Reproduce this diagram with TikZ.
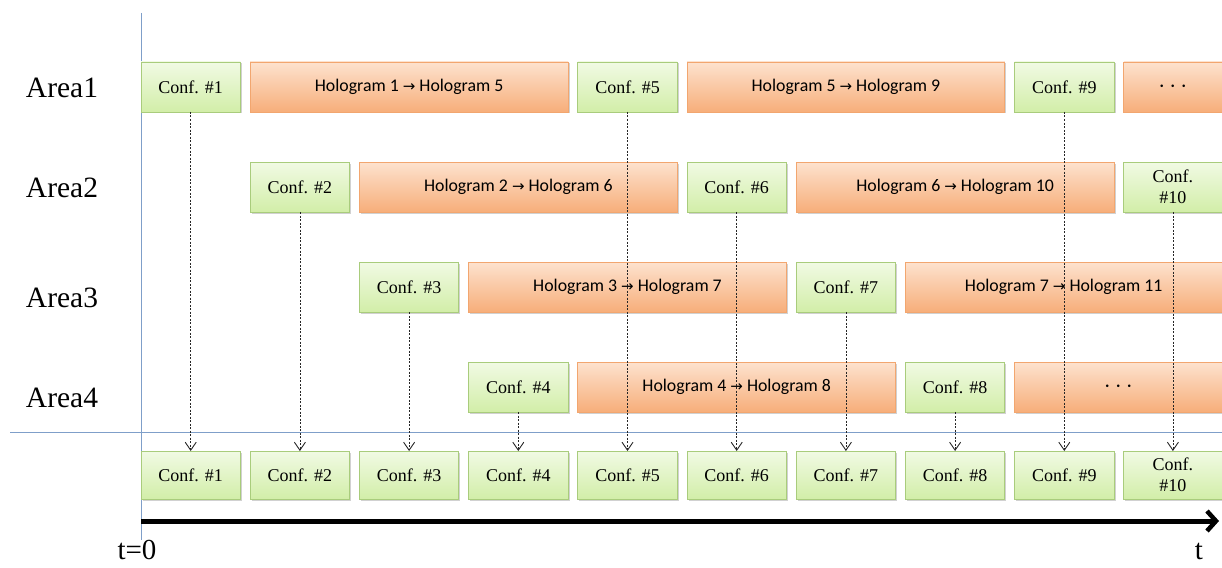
\documentclass[tikz,border=0pt]{standalone}
\usepackage{fontspec}
\setmainfont{Liberation Serif}
\newfontfamily\calib{Carlito}
\newfontfamily\dejavu{DejaVu Sans}
\usetikzlibrary{arrows.meta,shadows}
\definecolor{conftop}{HTML}{F1FAE4}
\definecolor{confbot}{HTML}{D2EEA8}
\definecolor{confline}{HTML}{A9CC7C}
\definecolor{holotop}{HTML}{FDE2CE}
\definecolor{holobot}{HTML}{F7AE7A}
\definecolor{hololine}{HTML}{F2A66F}
\definecolor{axiscol}{HTML}{7F9FC9}
\newcommand\harr{{\dejavu\fontsize{15}{17}\selectfont →}}
\begin{document}
\begin{tikzpicture}[x=1pt,y=-1pt,
  box/.style={draw, line width=0.8pt, inner sep=0pt, outer sep=0pt, anchor=north west,
    minimum height=50pt,
    drop shadow={shadow xshift=1.5pt, shadow yshift=-1.5pt, opacity=0.3, fill=black!60}},
  conf/.style={box, draw=confline, top color=conftop, bottom color=confbot,
    font=\fontsize{18}{21}\selectfont, align=center, minimum width=99.4pt},
  bconf/.style={conf, minimum height=48pt},
  holo/.style={box, draw=hololine, top color=holotop, bottom color=holobot,
    font=\calib\fontsize{17.8}{20}\selectfont},
  dots/.style={font=\fontsize{24}{26}\selectfont},
  area/.style={font=\fontsize{29.5}{34}\selectfont},
  tlab/.style={font=\fontsize{29}{33}\selectfont, anchor=base, inner sep=0pt},
  dep/.style={draw=black!85, line width=0.8pt, dash pattern=on 2pt off 1.5pt,
    -{Straight Barb[length=8pt,width=11pt,line width=0.9pt]}},
  axis/.style={draw=axiscol, line width=0.9pt}
]
\useasboundingbox (0,0) rectangle (1222,567);

% axes
\coordinate (ytop) at (141,13);
\coordinate (ybot) at (141,540);
\coordinate (hl) at (10,432);
\coordinate (hr) at (1222,432);
\draw[axis] (ytop) -- (ybot);
\draw[axis] (hl) -- (hr);

% area labels
\node[area] (a1) at (62,88) {Area1};
\node[area] (a2) at (62,188) {Area2};
\node[area] (a3) at (62,298) {Area3};
\node[area] (a4) at (62,398) {Area4};

% row 1
\node[conf] (c1) at (141,62) {Conf. \#1};
\node[holo, minimum width=317.8pt] (h15) at (250.2,62) {Hologram 1 \harr{} Hologram 5};
\node[conf] (c5) at (577.8,62) {Conf. \#5};
\node[holo, minimum width=317.8pt] (h59) at (687,62) {Hologram 5 \harr{} Hologram 9};
\node[conf] (c9) at (1014.6,62) {Conf. \#9};
\node[holo, dots, minimum width=98.2pt] (d1) at (1123.8,62) {$\cdots$};

% row 2
\node[conf] (c2) at (250.2,162) {Conf. \#2};
\node[holo, minimum width=317.8pt] (h26) at (359.4,162) {Hologram 2 \harr{} Hologram 6};
\node[conf] (c6) at (687,162) {Conf. \#6};
\node[holo, minimum width=317.8pt] (h610) at (796.2,162) {Hologram 6 \harr{} Hologram 10};
\node[conf, minimum width=98.2pt] (c10) at (1123.8,162) {Conf.\\\#10};

% row 3
\node[conf] (c3) at (359.4,262) {Conf. \#3};
\node[holo, minimum width=317.8pt] (h37) at (468.6,262) {Hologram 3 \harr{} Hologram 7};
\node[conf] (c7) at (796.2,262) {Conf. \#7};
\node[holo, minimum width=316.6pt] (h711) at (905.4,262) {Hologram 7 \harr{} Hologram 11};

% row 4
\node[conf] (c4) at (468.6,362) {Conf. \#4};
\node[holo, minimum width=317.8pt] (h48) at (577.8,362) {Hologram 4 \harr{} Hologram 8};
\node[conf] (c8) at (905.4,362) {Conf. \#8};
\node[holo, dots, minimum width=207.4pt] (d2) at (1014.6,362) {$\cdots$};

% bottom row
\node[bconf] (b1) at (141,451) {Conf. \#1};
\node[bconf] (b2) at (250.2,451) {Conf. \#2};
\node[bconf] (b3) at (359.4,451) {Conf. \#3};
\node[bconf] (b4) at (468.6,451) {Conf. \#4};
\node[bconf] (b5) at (577.8,451) {Conf. \#5};
\node[bconf] (b6) at (687,451) {Conf. \#6};
\node[bconf] (b7) at (796.2,451) {Conf. \#7};
\node[bconf] (b8) at (905.4,451) {Conf. \#8};
\node[bconf] (b9) at (1014.6,451) {Conf. \#9};
\node[bconf, minimum width=98.2pt] (b10) at (1123.8,451) {Conf.\\\#10};

% dependency arrows
\draw[dep] (c1.south) -- (b1.north);
\draw[dep] (c2.south) -- (b2.north);
\draw[dep] (c3.south) -- (b3.north);
\draw[dep] (c4.south) -- (b4.north);
\draw[dep] (c5.south) -- (b5.north);
\draw[dep] (c6.south) -- (b6.north);
\draw[dep] (c7.south) -- (b7.north);
\draw[dep] (c8.south) -- (b8.north);
\draw[dep] (c9.south) -- (b9.north);
\draw[dep] (c10.south) -- (c10.south |- b10.north);

% time arrow
\coordinate (t0) at (141,521);
\coordinate (tend) at (1219,521);
\draw[line width=5pt, -{Straight Barb[length=9pt,width=20pt,line width=4.5pt]}] (t0) -- (tend);
\node[tlab] (tz) at (137,559) {t=0};
\node[tlab] (tt) at (1199,559) {t};
\end{tikzpicture}
\end{document}
